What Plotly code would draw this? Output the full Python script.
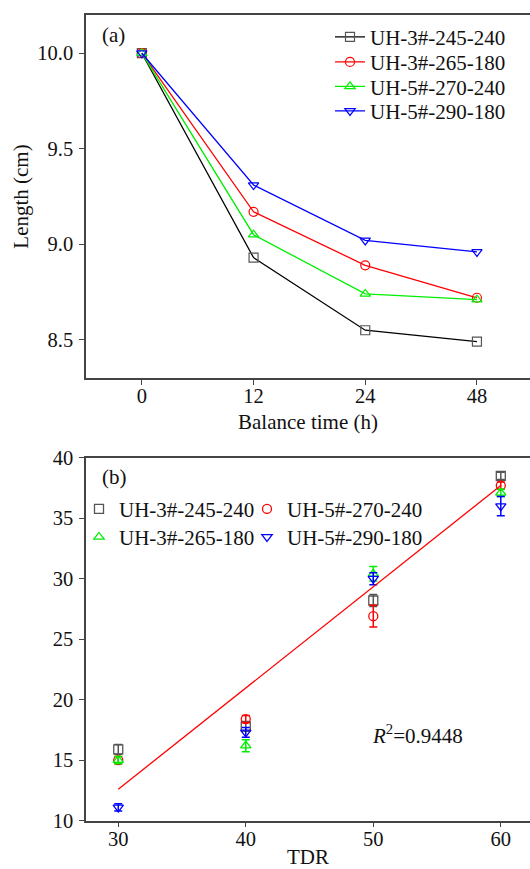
import plotly.graph_objects as go

# ---- Panel (a) data ----
time_labels = ["0", "12", "24", "48"]
series_a_names = ["UH-3#-245-240", "UH-3#-265-180", "UH-5#-270-240", "UH-5#-290-180"]
len_245_240 = [10.0, 8.93, 8.55, 8.49]
len_265_180 = [10.0, 9.17, 8.89, 8.72]
len_270_240 = [10.0, 9.05, 8.74, 8.71]
len_290_180 = [10.0, 9.31, 9.02, 8.96]

# ---- Panel (b) data ----
tdr = [30, 40, 50, 60]
series_b_names = ["UH-3#-245-240", "UH-5#-270-240", "UH-3#-265-180", "UH-5#-290-180"]
b_245_240 = [15.9, 17.8, 28.2, 38.5]
b_245_240_err = [0.4, 0.4, 0.5, 0.3]
b_270_240 = [15.0, 18.4, 26.9, 37.7]
b_270_240_err = [0.3, 0.3, 0.9, 0.3]
b_265_180 = [15.0, 16.2, 30.4, 37.1]
b_265_180_err = [0.3, 0.5, 0.6, 0.3]
b_290_180 = [11.1, 17.3, 30.0, 36.0]
b_290_180_err = [0.3, 0.4, 0.5, 0.8]
fit_x = [30, 60]
fit_y = [12.6, 37.7]
r2_text = "<i>R</i><sup>2</sup>=0.9448"

FONT = "Liberation Serif, Times New Roman, serif"
AX = "#444444"
H = 869
FS = 21

fig = go.Figure()

colors = ["#000000", "#ff0000", "#00ee00", "#0000ff"]
mcolors = ["#555555", "#ff0000", "#00ee00", "#0000ff"]
symbols_a = ["square-open", "circle-open", "triangle-up-open", "triangle-down-open"]
legends_a = ["legend", "legend3", "legend4", "legend5"]
for name, ys, c, mc, s, lg in zip(series_a_names,
                                  [len_245_240, len_265_180, len_270_240, len_290_180],
                                  colors, mcolors, symbols_a, legends_a):
    fig.add_trace(go.Scatter(
        x=time_labels, y=ys, mode="lines+markers", name=name,
        line=dict(color=c, width=1.3),
        marker=dict(symbol=s, size=9, color=mc, line=dict(color=mc, width=1.2)),
        xaxis="x", yaxis="y", legend=lg))

b_sets = [
    (series_b_names[0], b_245_240, b_245_240_err, "#555555", "square-open", "legend2"),
    (series_b_names[1], b_270_240, b_270_240_err, "#ff0000", "circle-open", "legend6"),
    (series_b_names[2], b_265_180, b_265_180_err, "#00ee00", "triangle-up-open", "legend7"),
    (series_b_names[3], b_290_180, b_290_180_err, "#0000ff", "triangle-down-open", "legend8"),
]
for name, ys, err, c, s, lg in b_sets:
    fig.add_trace(go.Scatter(
        x=tdr, y=ys, mode="markers", name=name,
        marker=dict(symbol=s, size=9, color=c, line=dict(color=c, width=1.3)),
        error_y=dict(type="data", array=err, color=c, thickness=1.5, width=4),
        xaxis="x2", yaxis="y2", legend=lg))

fig.add_trace(go.Scatter(
    x=fit_x, y=fit_y, mode="lines", line=dict(color="#ff0000", width=1.3),
    showlegend=False, xaxis="x2", yaxis="y2"))

axis_common = dict(showline=True, linecolor=AX, linewidth=1.5, ticks="outside",
                   ticklen=5, tickwidth=1.2, tickcolor=AX, showgrid=False,
                   zeroline=False, automargin=False,
                   tickfont=dict(family=FONT, size=20.5, color="#111"))


def leg(left_px, yc):
    return dict(x=(left_px - 86) / 444, xanchor="left", y=1 - yc / H, yanchor="middle",
                bgcolor="rgba(0,0,0,0)", font=dict(family=FONT, size=FS), itemwidth=30)


fig.update_layout(
    width=530, height=H,
    margin=dict(l=86, r=0, t=0, b=0, autoexpand=False),
    paper_bgcolor="white", plot_bgcolor="white",
    font=dict(family=FONT, size=FS, color="#111"),
    xaxis=dict(domain=[0, 1], type="category", range=[-0.5, 3.475], mirror=True,
               anchor="y", ticklabelstandoff=-6,
               title=dict(text="Balance time (h)", font=dict(family=FONT, size=FS), standoff=8),
               **axis_common),
    yaxis=dict(domain=[1 - 378 / H, 1 - 15 / H], range=[8.3, 10.2], anchor="x",
               tickvals=[8.5, 9.0, 9.5, 10.0], tickformat=".1f", mirror=False,
               ticklabelstandoff=2,
               title=dict(text="Length (cm)", font=dict(family=FONT, size=FS), standoff=3),
               **axis_common),
    xaxis2=dict(domain=[0, 1], range=[27.47, 62.29], mirror=True, anchor="y2",
                tickvals=[30, 40, 50, 60], ticklabelstandoff=-6,
                title=dict(text="TDR", font=dict(family=FONT, size=FS), standoff=13),
                **axis_common),
    yaxis2=dict(domain=[1 - 820.7 / H, 1 - 457.7 / H], range=[10, 40], anchor="x2",
                tickvals=[10, 15, 20, 25, 30, 35, 40], mirror=False,
                ticklabelstandoff=2,
                **axis_common),
    legend=leg(330, 37.3), legend3=leg(330, 62.3),
    legend4=leg(330, 86.7), legend5=leg(330, 111.3),
    legend2=leg(79, 509.3), legend6=leg(247, 509.3),
    legend7=leg(79, 537.3), legend8=leg(247, 537.3),
    annotations=[
        dict(text="(a)", x=0.0315, xref="paper", y=1 - 35 / H, yref="paper",
             xanchor="left", yanchor="middle", showarrow=False,
             font=dict(family=FONT, size=FS)),
        dict(text="(b)", x=0.0315, xref="paper", y=1 - 476.7 / H, yref="paper",
             xanchor="left", yanchor="middle", showarrow=False,
             font=dict(family=FONT, size=FS)),
        dict(text=r2_text, x=53.5, xref="x2", y=17.1, yref="y2",
             xanchor="center", yanchor="middle", showarrow=False,
             font=dict(family=FONT, size=FS)),
    ],
)

fig.write_html("out.html")
